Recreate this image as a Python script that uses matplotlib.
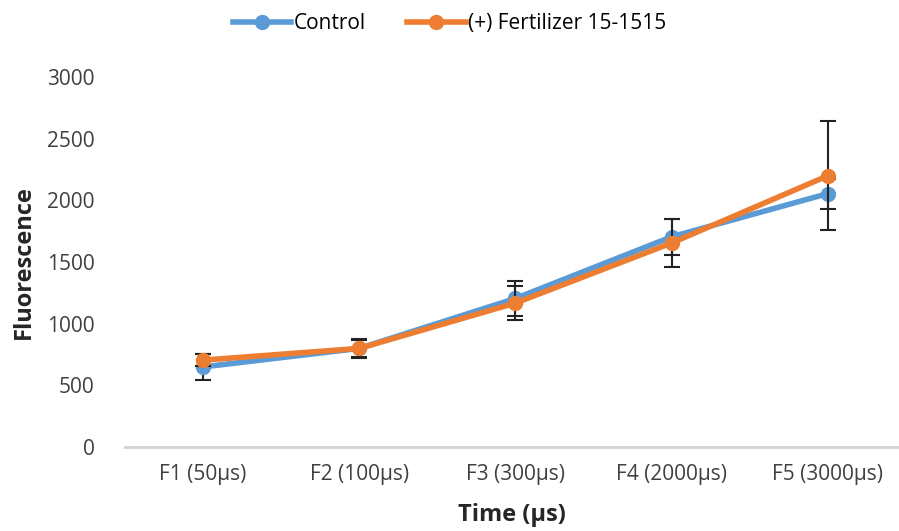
import numpy as np
import matplotlib.pyplot as plt
from matplotlib.lines import Line2D

plt.rcParams['font.family'] = ['Open Sans', 'DejaVu Sans']

# data
categories = ['F1 (50µs)', 'F2 (100µs)', 'F3 (300µs)', 'F4 (2000µs)', 'F5 (3000µs)']
control = [650, 800, 1205, 1705, 2055]
control_err = [105, 80, 140, 145, 122]
fert = [705, 800, 1168, 1655, 2200]
fert_err = [50, 70, 138, 193, 444]

blue, orange = '#5B9BD5', '#ED7D31'

fig = plt.figure(figsize=(8.99, 5.31), dpi=100)
ax = fig.add_axes([0.139, 0.158, 0.861, 0.697])

x = np.arange(len(categories))
ax.errorbar(x, control, yerr=control_err, color=blue, lw=4, marker='o', ms=10,
            ecolor='#222222', elinewidth=1.5, capsize=6, capthick=1.5, zorder=3)
ax.errorbar(x, fert, yerr=fert_err, color=orange, lw=4, marker='o', ms=10,
            ecolor='#222222', elinewidth=1.5, capsize=6, capthick=1.5, zorder=4)

ax.set_xlim(-0.5, 4.455)
ax.set_ylim(0, 3000)
ax.set_yticks(np.arange(0, 3001, 500))
ax.set_xticks(x)
ax.set_xticklabels(categories)
ax.tick_params(length=0, labelsize=15, colors='#404040')
ax.tick_params(axis='x', pad=12)
ax.tick_params(axis='y', pad=22)

for s in ['top', 'right', 'left']:
    ax.spines[s].set_visible(False)
ax.spines['bottom'].set_color('#d0d0d0')
ax.spines['bottom'].set_linewidth(2)

ax.set_ylabel('Fluorescence', fontsize=17, fontweight='bold', color='#262626', labelpad=8)
ax.set_xlabel('Time (µs)', fontsize=17, fontweight='bold', color='#262626', labelpad=13)

handles = [Line2D([], [], color=blue, lw=4, marker='o', ms=10),
           Line2D([], [], color=orange, lw=4, marker='o', ms=10)]
labels = ['Control', '(+) Fertilizer 15-1515']
fig.legend(handles, labels, loc='upper center', bbox_to_anchor=(0.5, 1.01), ncol=2,
           frameon=False, fontsize=15, handlelength=2.8, columnspacing=2.0, handletextpad=0.1)

fig.savefig('out.png', dpi=100)
